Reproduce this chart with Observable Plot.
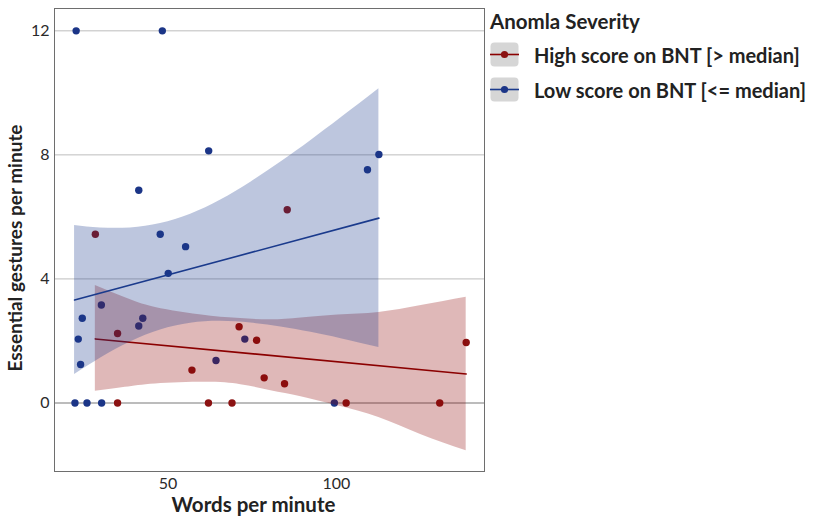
<!DOCTYPE html>
<html><head><meta charset="utf-8">
<script src="https://cdn.jsdelivr.net/npm/d3@7"></script>
<script src="https://cdn.jsdelivr.net/npm/@observablehq/plot@0.6"></script>
<style>
body{margin:0;background:#fff;font-family:Lato,"Open Sans",sans-serif;}
#wrap{position:relative;width:813px;height:526px;overflow:hidden;}
#legend{position:absolute;left:490px;top:8px;color:#222;font-weight:bold;}
#legend .title{font-size:20.5px;line-height:26px;margin-bottom:8px;}
#legend .row{display:flex;align-items:center;height:25px;margin-bottom:10px;font-size:20px;}
#legend .row svg{margin-right:15px;flex:none;}
</style></head><body>
<div id="wrap"><div id="chart"></div><div id="legend"></div></div>
<script>
// Words per minute / essential gestures per minute
const highX = [28.4, 85.4, 35.0, 71.1, 76.3, 57.1, 78.55, 84.6, 138.56, 35.0, 62.0, 69.0, 102.9, 130.7];
const highY = [5.44, 6.23, 2.24, 2.46, 2.02, 1.06, 0.81, 0.62, 1.95, 0, 0, 0, 0, 0];
const lowX = [22.7, 48.3, 62.07, 41.3, 47.68, 112.63, 109.24, 55.21, 50.06, 30.19, 24.52, 42.49, 41.3, 72.8, 23.33, 64.24, 24.02, 22.35, 25.92, 30.27, 99.4];
const lowY = [12, 12, 8.13, 6.86, 5.44, 8.01, 7.52, 5.04, 4.18, 3.16, 2.73, 2.73, 2.48, 2.06, 2.06, 1.37, 1.24, 0, 0, 0, 0];

// Fitted lines (end points) and confidence bands
const highFitX = [28.4, 138.56];
const highFitY = [2.065, 0.935];
const highBandX = [28.4, 37.33, 46.28, 61.17, 71.6, 80.54, 89.48, 100.4, 112.6, 125.2, 138.56];
const highBandHi = [3.79, 3.39, 3.08, 2.82, 2.72, 2.68, 2.74, 2.84, 2.92, 3.14, 3.41];
const highBandLo = [0.374, 0.503, 0.613, 0.665, 0.59, 0.397, 0.203, -0.087, -0.465, -1.023, -1.539];

const lowFitX = [22.23, 112.63];
const lowFitY = [3.32, 5.96];
const lowBandX = [22.23, 29.89, 38.82, 47.76, 56.7, 65.64, 74.58, 83.52, 92.46, 101.4, 112.63];
const lowBandHi = [5.726, 5.645, 5.645, 5.784, 6.087, 6.545, 7.119, 7.768, 8.465, 9.194, 10.13];
const lowBandLo = [0.919, 1.445, 1.968, 2.352, 2.571, 2.632, 2.577, 2.452, 2.277, 2.071, 1.79];

const xTicks = [50, 100];
const yTicks = [0, 4, 8, 12];
const groups = ["High score on BNT [> median]", "Low score on BNT [<= median]"];
const legendTitle = "Anomla Severity";

const redPt = "#8b1212", bluePt = "#1b3587";
const redLine = "#8b0000", blueLine = "#1a3a8c";

const pts = [
  ...highX.map((x, i) => ({x, y: highY[i], g: groups[0]})),
  ...lowX.map((x, i) => ({x, y: lowY[i], g: groups[1]}))
];
const hb = highBandX.map((x, i) => ({x, lo: highBandLo[i], hi: highBandHi[i]}));
const lb = lowBandX.map((x, i) => ({x, lo: lowBandLo[i], hi: lowBandHi[i]}));
const hf = highFitX.map((x, i) => ({x, y: highFitY[i]}));
const lf = lowFitX.map((x, i) => ({x, y: lowFitY[i]}));

const chart = Plot.plot({
  width: 487, height: 526,
  marginLeft: 54, marginTop: 8, marginBottom: 55, marginRight: 3,
  style: {fontFamily: "Lato, 'Open Sans', sans-serif", fontSize: "16px", color: "#2a2a2a", background: "#fff"},
  x: {domain: [16.27, 144.0]},
  y: {domain: [-2.21, 12.72]},
  color: {domain: groups, range: [redPt, bluePt]},
  marks: [
    Plot.gridY(yTicks.filter(d => d !== 0), {stroke: "#bdbdbd", strokeOpacity: 1, strokeWidth: 1}),
    Plot.ruleY([0], {stroke: "#7a7a7a", strokeWidth: 1.1}),
    Plot.dot(pts, {x: "x", y: "y", fill: "g", r: 3.7, stroke: "none"}),
    Plot.areaY(hb, {x: "x", y1: "lo", y2: "hi", fill: redLine, fillOpacity: 0.28, curve: "natural"}),
    Plot.line(hf, {x: "x", y: "y", stroke: redLine, strokeWidth: 1.6}),
    Plot.areaY(lb, {x: "x", y1: "lo", y2: "hi", fill: blueLine, fillOpacity: 0.29, curve: "natural"}),
    Plot.line(lf, {x: "x", y: "y", stroke: blueLine, strokeWidth: 1.6}),
    Plot.frame({stroke: "#6e6e6e", strokeWidth: 1}),
    Plot.axisX({ticks: xTicks, tickSize: 0, tickPadding: 6, label: null, fontSize: 16}),
    Plot.axisY({ticks: yTicks, tickSize: 0, tickPadding: 5, label: null, fontSize: 16}),
    Plot.text(["Words per minute"], {frameAnchor: "bottom", dy: 40, dx: -16, fontWeight: "bold", fontSize: 20.5, fill: "#222"}),
    Plot.text(["Essential gestures per minute"], {frameAnchor: "left", textAnchor: "middle", dx: -39, dy: 8, rotate: -90, fontWeight: "bold", fontSize: 19, fill: "#222"})
  ]
});
document.getElementById("chart").appendChild(chart);

// Legend
const leg = document.getElementById("legend");
const t = document.createElement("div"); t.className = "title"; t.textContent = legendTitle; leg.appendChild(t);
[[groups[0], redLine, redPt], [groups[1], blueLine, bluePt]].forEach(([lab, lc, pc]) => {
  const row = document.createElement("div"); row.className = "row";
  const ns = "http://www.w3.org/2000/svg";
  const s = document.createElementNS(ns, "svg"); s.setAttribute("width", 29); s.setAttribute("height", 25);
  s.innerHTML = `<rect x="0.5" y="0.5" width="28" height="24" rx="4" fill="#d6d6d6"/>` +
    `<line x1="0" x2="29" y1="12.5" y2="12.5" stroke="${lc}" stroke-width="1.6"/>` +
    `<circle cx="14.5" cy="12.5" r="3.6" fill="${pc}"/>`;
  row.appendChild(s);
  const sp = document.createElement("span"); sp.textContent = lab; row.appendChild(sp);
  leg.appendChild(row);
});
</script>
</body></html>
